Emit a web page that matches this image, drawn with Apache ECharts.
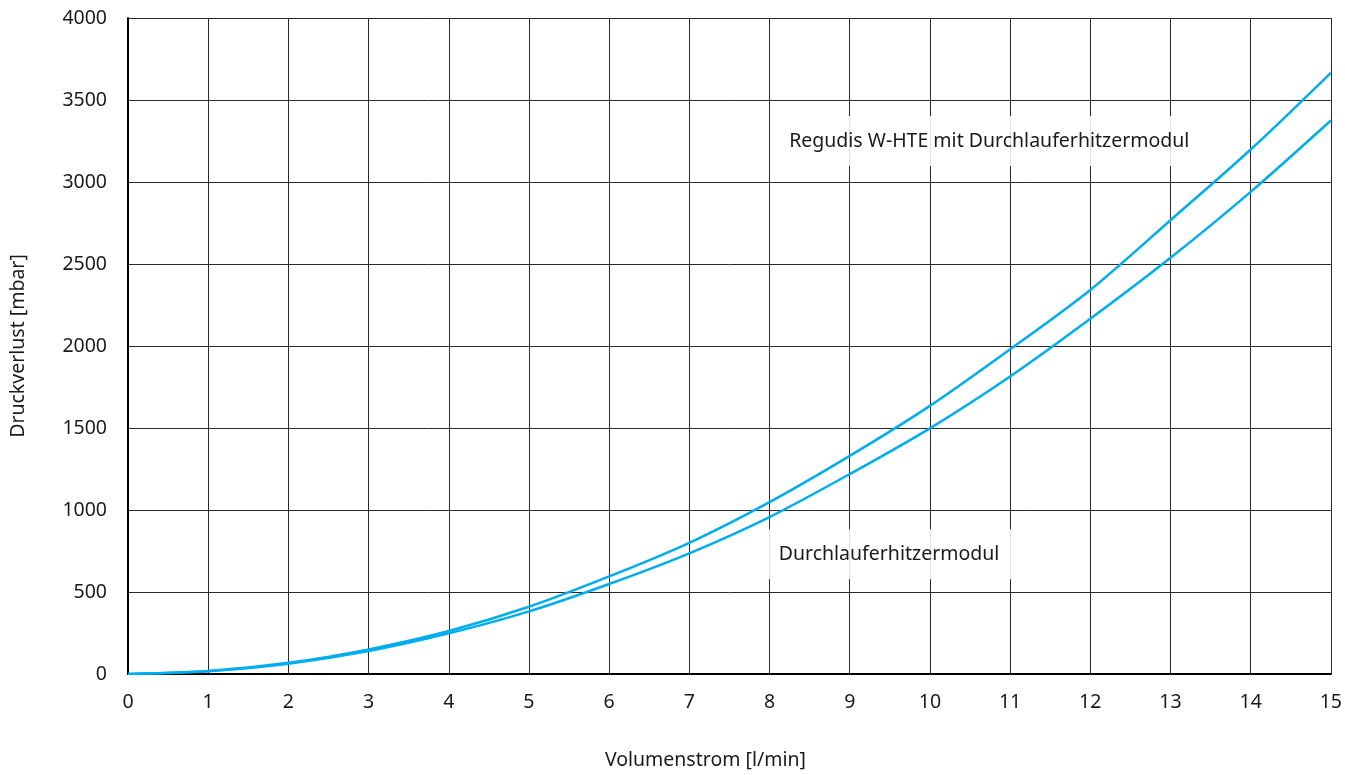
<!DOCTYPE html>
<html>
<head>
<meta charset="utf-8">
<script src="https://cdn.jsdelivr.net/npm/echarts@6/dist/echarts.min.js"></script>
<style>
  html, body { margin: 0; padding: 0; overflow: hidden; background: #fff; }
  #chart { width: 1345px; height: 775px; }
</style>
</head>
<body>
<div id="chart"></div>
<script>
// Volumenstrom in l/min
const flow = [0, 1, 2, 3, 4, 5, 6, 7, 8, 9, 10, 11, 12, 13, 14, 15];
// Druckverlust in mbar
const regudisLoss = [0, 18, 68, 150, 262, 410, 595, 800, 1048, 1330, 1635, 1980, 2342, 2767, 3198, 3666];
const moduleLoss  = [0, 17, 63, 140, 248, 382, 549, 736, 957, 1219, 1498, 1814, 2166, 2538, 2940, 3375];

const labelRegudis = { text: 'Regudis W-HTE mit Durchlauferhitzermodul', at: [10.74, 3250] };
const labelModule  = { text: 'Durchlauferhitzermodul', at: [9.49, 730] };

const FONT = 'Noto Sans';
const FONT_SIZE = 19.5;
const TEXT_COLOR = '#1a1a1a';
const LINE_COLOR = '#00aeef';

const pairs = (xs, ys) => xs.map((x, i) => [x, ys[i]]);

const boxLabel = (lbl, pad) => ({
  coord: lbl.at,
  symbol: 'rect',
  symbolSize: 0,
  label: {
    show: true,
    position: 'inside',
    formatter: lbl.text,
    fontFamily: FONT,
    fontSize: FONT_SIZE,
    color: TEXT_COLOR,
    backgroundColor: 'rgba(255,255,255,0.85)',
    padding: pad
  }
});

const chart = echarts.init(document.getElementById('chart'), null, { renderer: 'canvas' });
chart.setOption({
  animation: false,
  backgroundColor: '#fff',
  grid: { left: 128, right: 13, top: 18, bottom: 94, containLabel: false },
  xAxis: {
    type: 'value',
    min: 0, max: 15, interval: 1,
    name: 'Volumenstrom [l/min]',
    nameLocation: 'middle',
    nameGap: 76,
    nameTextStyle: { fontFamily: FONT, fontSize: FONT_SIZE, color: TEXT_COLOR, padding: [0, 48, 0, 0] },
    axisLine: { show: true, onZero: false, lineStyle: { color: '#000', width: 2 } },
    axisTick: { show: false },
    axisLabel: { fontFamily: FONT, fontSize: FONT_SIZE, color: TEXT_COLOR, margin: 18 },
    splitLine: { show: true, lineStyle: { color: '#2a2a2a', width: 1 } }
  },
  yAxis: {
    type: 'value',
    min: 0, max: 4000, interval: 500,
    name: 'Druckverlust [mbar]',
    nameLocation: 'middle',
    nameGap: 100,
    nameTextStyle: { fontFamily: FONT, fontSize: FONT_SIZE, color: TEXT_COLOR },
    axisLine: { show: true, lineStyle: { color: '#000', width: 2 } },
    axisTick: { show: false },
    axisLabel: { fontFamily: FONT, fontSize: FONT_SIZE, color: TEXT_COLOR, margin: 21, formatter: v => String(v) },
    splitLine: { show: true, lineStyle: { color: '#2a2a2a', width: 1 } }
  },
  series: [
    {
      name: 'Regudis W-HTE mit Durchlauferhitzermodul',
      type: 'line',
      data: pairs(flow, regudisLoss),
      smooth: 0.3,
      showSymbol: false,
      lineStyle: { color: LINE_COLOR, width: 2.5 },
      markPoint: { silent: true, data: [boxLabel(labelRegudis, [15, 18, 15, 18])] },
      z: 3
    },
    {
      name: 'Durchlauferhitzermodul',
      type: 'line',
      data: pairs(flow, moduleLoss),
      smooth: 0.3,
      showSymbol: false,
      lineStyle: { color: LINE_COLOR, width: 2.5 },
      markPoint: { silent: true, data: [boxLabel(labelModule, [15, 12, 15, 12])] },
      z: 3
    }
  ]
});
</script>
</body>
</html>
